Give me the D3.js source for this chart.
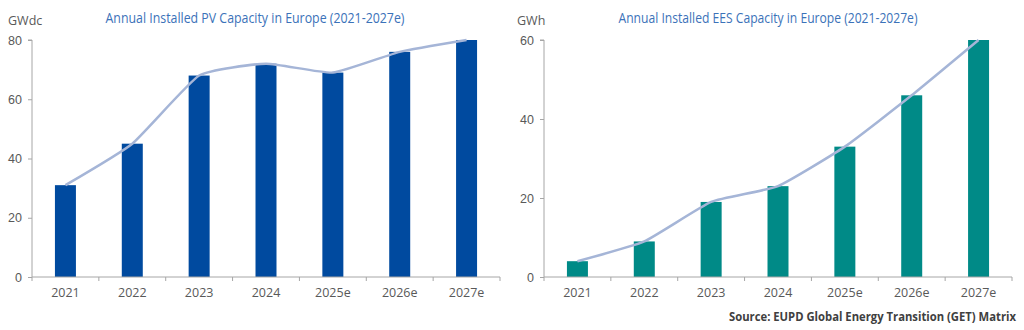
<!DOCTYPE html>
<html>
<head>
<meta charset="utf-8">
<script src="https://cdn.jsdelivr.net/npm/d3@7"></script>
<style>
  body { margin: 0; background: #fff; }
  svg { display: block; font-family: "Open Sans", "Noto Sans", sans-serif; }
</style>
</head>
<body>
<div id="chart"></div>
<script>
const years = ["2021", "2022", "2023", "2024", "2025e", "2026e", "2027e"]
const pvValues = [31, 45, 68, 72, 69, 76, 80]
const eesValues = [4, 9, 19, 23, 33, 46, 60]
const pvTicks = [0, 20, 40, 60, 80]
const eesTicks = [0, 20, 40, 60]

const svg = d3.select("#chart")
    .append("svg")
    .attr("width", 1024)
    .attr("height", 330)

// squeeze a label horizontally when the font runs wider than the original
function fitText(sel, maxW) {
    if (sel.node().getComputedTextLength() > maxW) {
        sel.attr("textLength", maxW).attr("lengthAdjust", "spacingAndGlyphs")
    }
}

function panel(opts) {
    const g = svg.append("g")

    const x = d3.scaleBand()
        .domain(years)
        .range([opts.left, opts.right])
        .paddingInner(0.686)
        .paddingOuter(0.343)

    const y = d3.scaleLinear()
        .domain([0, opts.max])
        .range([277, 40])

    // y axis
    const yAxis = g.append("g")
        .attr("transform", `translate(${opts.left},0)`)
        .call(d3.axisLeft(y).tickValues(opts.ticks).tickSize(4).tickPadding(6))
    yAxis.select(".domain").attr("stroke", "#a6a6a6").attr("d", `M-4,${y(opts.max)}H0V${y(0)}`)
    yAxis.selectAll(".tick line").attr("stroke", "#a6a6a6")
    yAxis.selectAll(".tick text").attr("fill", "#595959").attr("font-size", 12.5)

    // bars
    g.selectAll("rect.bar")
        .data(opts.values)
        .join("rect")
        .attr("class", "bar")
        .attr("x", (d, i) => x(years[i]))
        .attr("y", d => y(d))
        .attr("width", x.bandwidth())
        .attr("height", d => y(0) - y(d))
        .attr("fill", opts.color)

    // x axis, ticks sit between categories
    const xg = g.append("g")
        .attr("transform", `translate(0,${y(0)})`)
    xg.append("line")
        .attr("x1", opts.left).attr("x2", opts.right)
        .attr("stroke", "#a6a6a6")
    const bounds = years.map(yr => x(yr) - x.step() * x.paddingOuter())
    bounds.push(opts.right)
    xg.selectAll("line.tk")
        .data(bounds)
        .join("line")
        .attr("class", "tk")
        .attr("x1", d => d).attr("x2", d => d)
        .attr("y1", 0).attr("y2", 4)
        .attr("stroke", "#a6a6a6")
    xg.selectAll("text")
        .data(years)
        .join("text")
        .attr("x", d => x(d) + x.bandwidth() / 2)
        .attr("y", 20)
        .attr("text-anchor", "middle")
        .attr("fill", "#595959")
        .attr("font-size", 12.5)
        .text(d => d)

    // smoothed trend line over the bar tops
    g.append("path")
        .datum(opts.values)
        .attr("d", d3.line()
            .x((d, i) => x(years[i]) + x.bandwidth() / 2)
            .y(d => y(d))
            .curve(d3.curveCardinal.tension(0.55)))
        .attr("fill", "none")
        .attr("stroke", "#a5b5d7")
        .attr("stroke-width", 2.5)

    // unit label
    g.append("text")
        .attr("x", opts.unitX)
        .attr("y", 25)
        .attr("fill", "#595959")
        .attr("font-size", 12.5)
        .text(opts.unit)

    // title
    const t = g.append("text")
        .attr("x", opts.titleX)
        .attr("y", 23)
        .attr("text-anchor", "middle")
        .attr("fill", "#3b72b9")
        .attr("font-size", 14)
        .text(opts.title)
    fitText(t, 299)
}

panel({
    left: 32, right: 500, max: 80, ticks: pvTicks, values: pvValues,
    color: "#004a9f", unit: "GWdc", unitX: 8, titleX: 255,
    title: "Annual Installed PV Capacity in Europe (2021-2027e)"
})

panel({
    left: 544, right: 1012, max: 60, ticks: eesTicks, values: eesValues,
    color: "#008a87", unit: "GWh", unitX: 517, titleX: 768,
    title: "Annual Installed EES Capacity in Europe (2021-2027e)"
})

const src = svg.append("text")
    .attr("x", 1016)
    .attr("y", 321)
    .attr("text-anchor", "end")
    .attr("fill", "#404040")
    .attr("font-weight", "bold")
    .attr("font-size", 11.5)
    .text("Source: EUPD Global Energy Transition (GET) Matrix")
fitText(src, 287)
</script>
</body>
</html>
